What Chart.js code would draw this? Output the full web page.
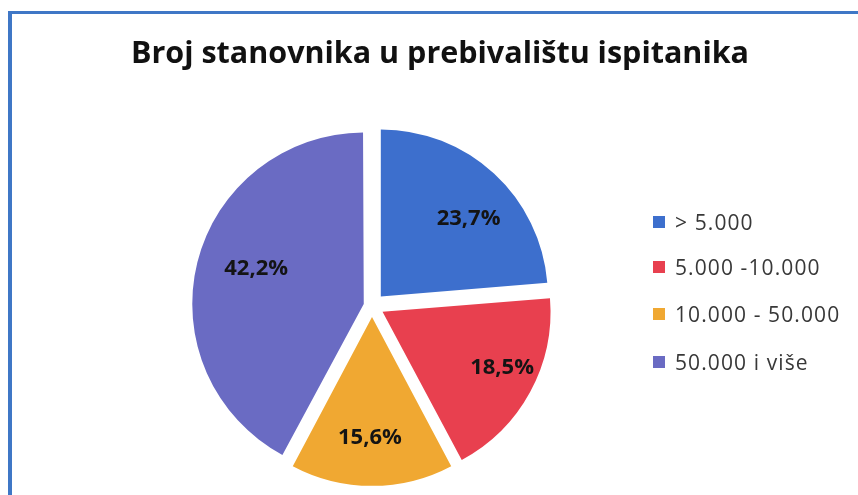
<!DOCTYPE html>
<html>
<head>
<meta charset="utf-8">
<script src="https://cdn.jsdelivr.net/npm/chart.js@4"></script>
<style>
  html, body { margin:0; padding:0; background:#ffffff; }
  #wrap { position:relative; width:858px; height:495px; overflow:hidden; background:#fff; }
  #frame { position:absolute; left:8px; top:11px; width:900px; height:600px;
           border-left:4px solid #3f77c6; border-top:3px solid #3f77c6; box-sizing:border-box; }
  #c { position:absolute; left:0; top:0; }
  #title { position:absolute; left:0; width:880px; top:30.7px; text-align:center;
           font-family:"Open Sans", sans-serif; font-weight:bold; font-size:30.5px;
           line-height:1.362; color:#111111; white-space:nowrap; }
  #legend { position:absolute; left:653px; top:0; font-family:"Open Sans", sans-serif;
            font-size:21px; color:#383838; }
  .item { position:absolute; left:0; white-space:nowrap; height:30px; line-height:30px; }
  .box { position:absolute; left:0; top:9px; width:12px; height:12px; }
  .txt { position:absolute; left:22px; top:0; letter-spacing:1.1px; }
</style>
</head>
<body>
<div id="wrap">
  <div id="frame"></div>
  <canvas id="c" width="858" height="495"></canvas>
  <div id="title"></div>
  <div id="legend"></div>
</div>
<script>
const categories = ['> 5.000', '5.000 -10.000', '10.000 - 50.000', '50.000 i više'];
const values = [23.7, 18.5, 15.6, 42.2];
const valueLabels = ['23,7%', '18,5%', '15,6%', '42,2%'];
const colors = ['#3d6fcd', '#e8404f', '#f0a832', '#6a6bc3'];
const titleText = 'Broj stanovnika u prebivalištu ispitanika';

// styling: explosion per slice, label placement (radius fraction, angle tweak in degrees)
const sliceOffsets = [52, 48, 44, 34];
const labelRadius = [0.70, 0.785, 0.71, 0.65];
const labelTurn = [6, -3.5, 1, 4];

document.getElementById('title').textContent = titleText;

const labelPlugin = {
  id: 'sliceLabels',
  afterDatasetsDraw(chart) {
    const ctx = chart.ctx;
    const meta = chart.getDatasetMeta(0);
    ctx.save();
    ctx.font = 'bold 22px "Open Sans", sans-serif';
    ctx.fillStyle = '#141414';
    ctx.textAlign = 'center';
    ctx.textBaseline = 'middle';
    meta.data.forEach((arc, i) => {
      const p = arc.getProps(['x','y','startAngle','endAngle','outerRadius','circumference'], true);
      const mid = (p.startAngle + p.endAngle) / 2;
      const off = (arc.options.offset || 0) / 4;
      const fix = 1 - Math.sin(Math.min(Math.PI, p.circumference || 0));
      const trans = off + off * fix;
      const cx = p.x + Math.cos(mid) * trans;
      const cy = p.y + Math.sin(mid) * trans;
      const a = mid + labelTurn[i] * Math.PI / 180;
      const d = p.outerRadius * labelRadius[i];
      ctx.fillText(valueLabels[i], cx + Math.cos(a) * d, cy + Math.sin(a) * d);
    });
    ctx.restore();
  }
};

new Chart(document.getElementById('c'), {
  type: 'pie',
  data: {
    labels: categories,
    datasets: [{
      data: values,
      backgroundColor: colors,
      borderWidth: 0,
      offset: sliceOffsets,
      clip: false
    }]
  },
  options: {
    responsive: false,
    animation: false,
    radius: 167,
    layout: { padding: { left: 0, right: 114, top: 117, bottom: 0 } },
    plugins: {
      legend: { display: false },
      tooltip: { enabled: false },
      title: { display: false }
    }
  },
  plugins: [labelPlugin]
});

const legendEl = document.getElementById('legend');
const itemY = [222, 267, 314, 362];
categories.forEach((c, i) => {
  const it = document.createElement('div');
  it.className = 'item';
  it.style.top = (itemY[i] - 15) + 'px';
  const b = document.createElement('div');
  b.className = 'box';
  b.style.background = colors[i];
  const t = document.createElement('div');
  t.className = 'txt';
  t.textContent = c;
  it.appendChild(b); it.appendChild(t);
  legendEl.appendChild(it);
});
</script>
</body>
</html>
